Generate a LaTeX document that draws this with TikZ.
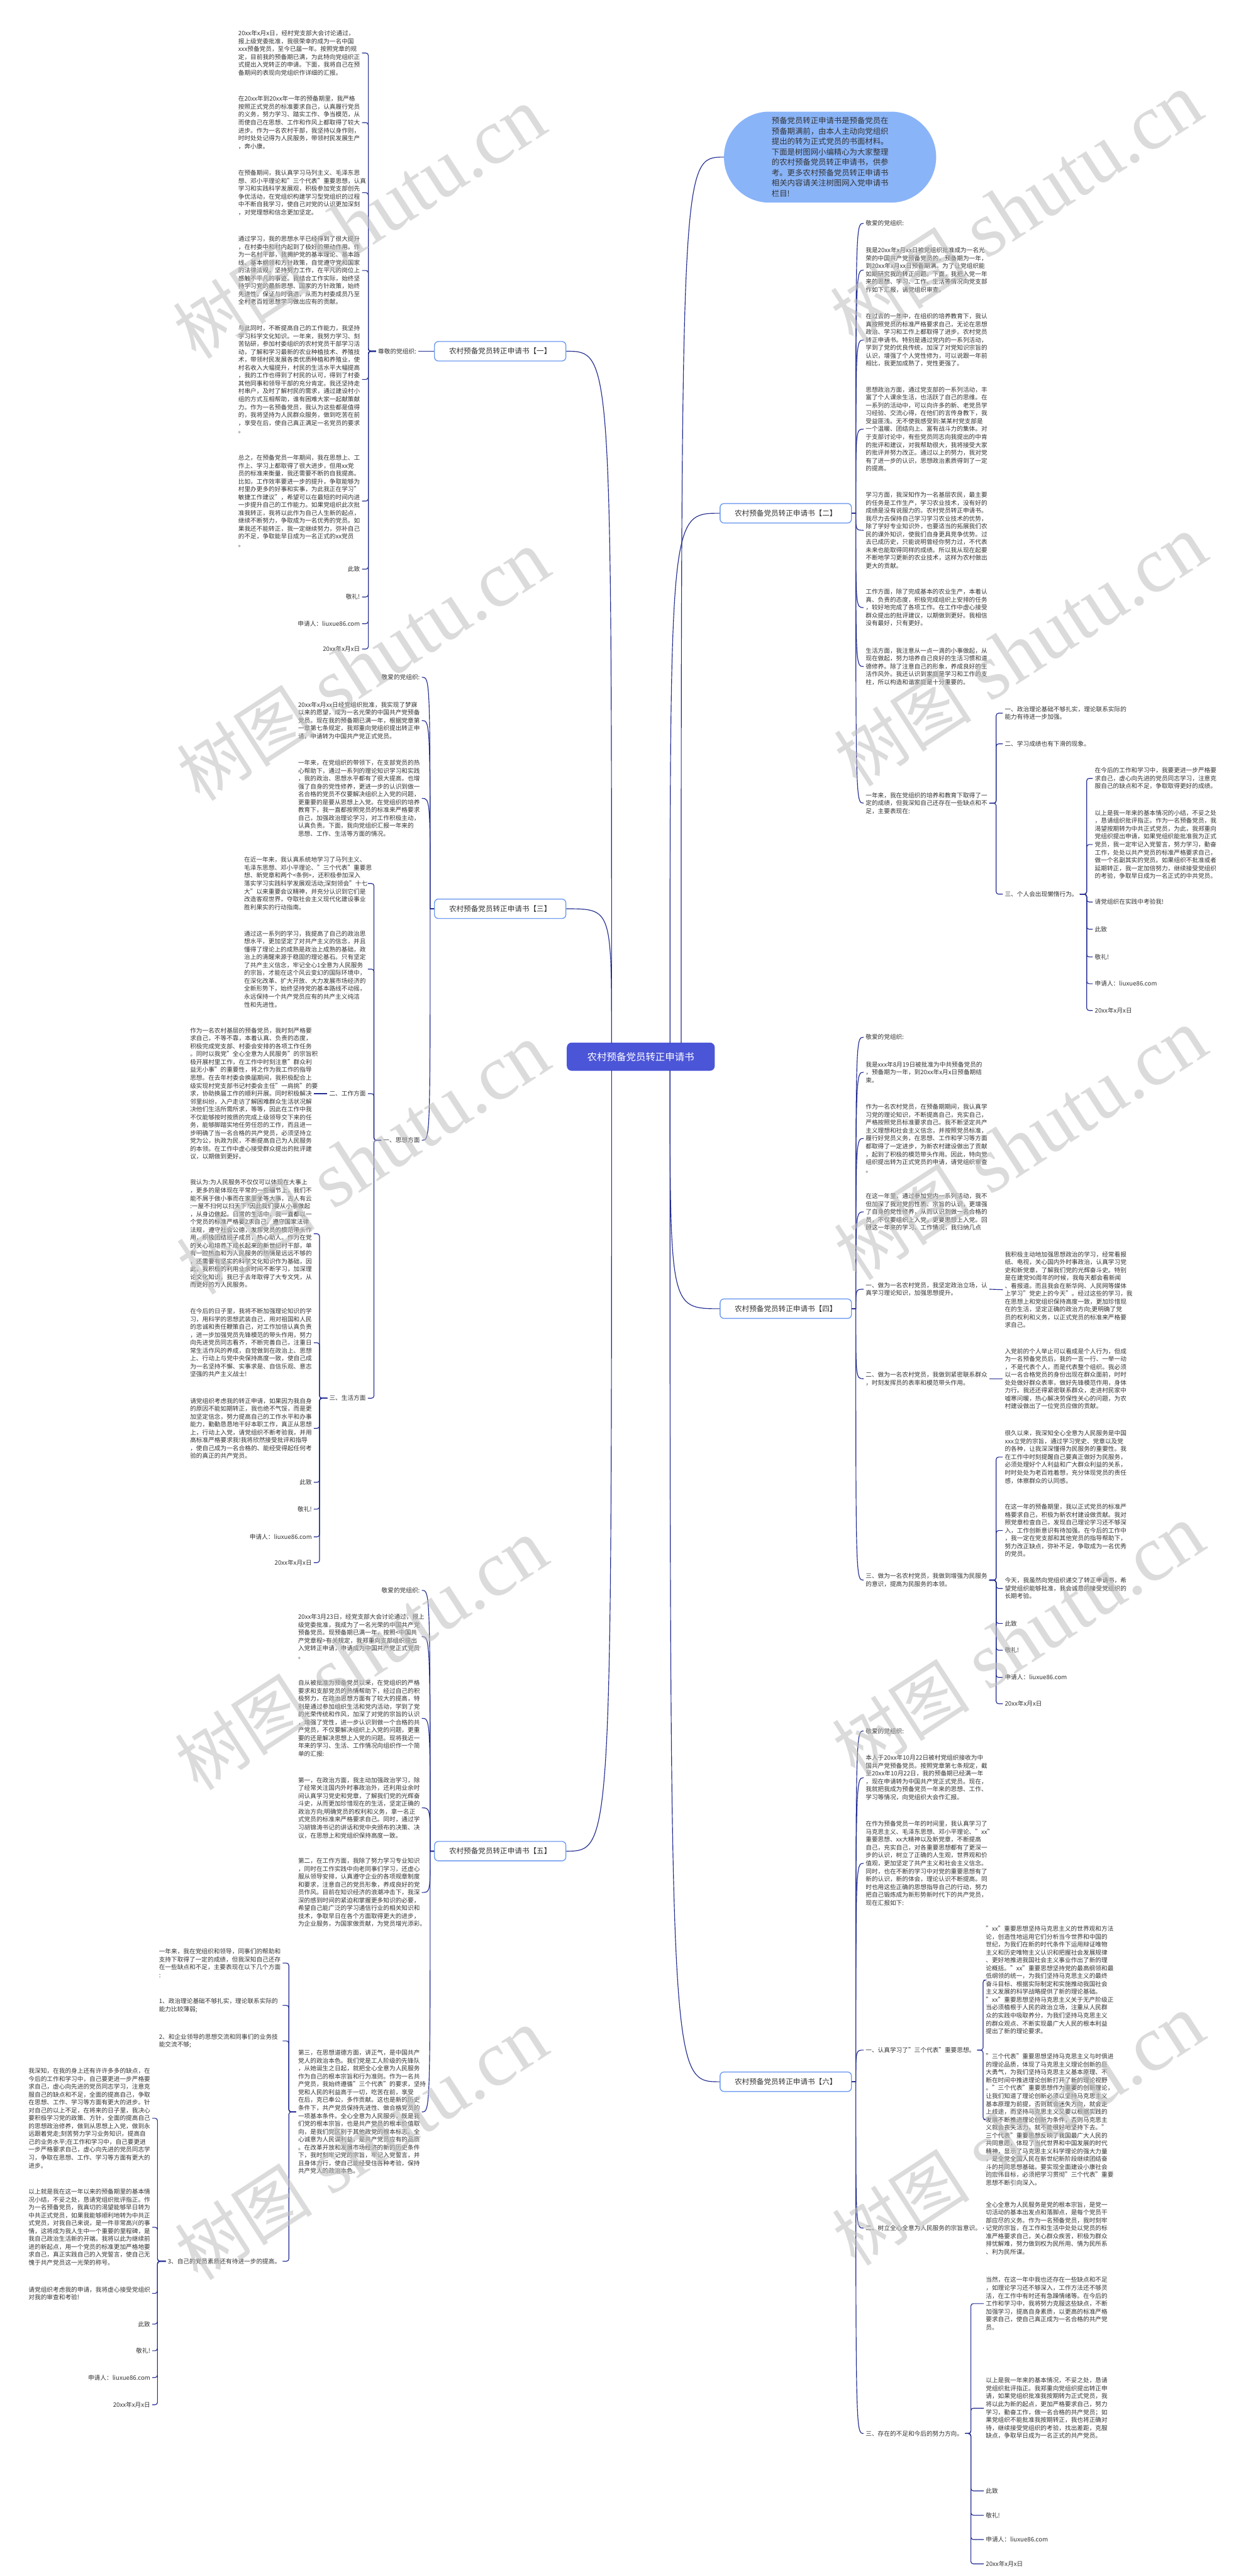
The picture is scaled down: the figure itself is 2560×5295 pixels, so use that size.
\documentclass[tikz,border=0pt]{standalone}
\usepackage{fontspec}
\setmainfont{Noto Sans CJK SC}
\newfontfamily\wmlatin{Liberation Serif}
\usetikzlibrary{calc}
\definecolor{linkblue}{RGB}{35,45,145}
\definecolor{txtgray}{RGB}{51,51,51}
\definecolor{bubbleblue}{RGB}{138,180,248}
\definecolor{rootblue}{RGB}{75,85,215}
\definecolor{branchblue}{RGB}{110,155,240}
\definecolor{wmgray}{RGB}{190,190,190}
% curved links from a branch to its children
\newcommand{\curveL}[2]{%
  \path (#1.west) ++(-8,0) coordinate (s);
  \draw[link] (#1.west) -- (s) .. controls (s |- #2.east) .. (#2.east);
}
\newcommand{\curveR}[2]{%
  \path (#1.east) ++(8,0) coordinate (s);
  \draw[link] (#1.east) -- (s) .. controls (s |- #2.west) .. (#2.west);
}
% bracket links for the deeper levels
\newcommand{\bracketL}[3]{\draw[link, rounded corners=5pt] (#1.west) -- ++(-#3,0) |- (#2.east);}
\newcommand{\bracketR}[3]{\draw[link, rounded corners=5pt] (#1.east) -- ++(#3,0) |- (#2.west);}

\begin{document}
\begin{tikzpicture}[x=1pt, y=-1pt,
  link/.style={draw=linkblue, line width=1.5pt},
  para/.style={font=\fontsize{12.5}{16.2}\selectfont, text=txtgray, align=left, text width=250pt, inner xsep=4pt, inner ysep=0pt},
  item/.style={font=\fontsize{12.5}{16.2}\selectfont, text=txtgray, align=left, inner xsep=4pt, inner ysep=0pt},
  branch/.style={draw=branchblue, line width=1.8pt, rounded corners=8pt, fill=white, text=txtgray, font=\fontsize{15}{18}\selectfont, minimum width=270pt, minimum height=40pt},
  root/.style={fill=rootblue, rounded corners=10pt, text=white, font=\fontsize{20}{24}\selectfont, minimum width=304pt, minimum height=58pt},
  bubble/.style={fill=bubbleblue, rounded corners=93pt, minimum width=436pt, minimum height=187pt, text=txtgray, font=\fontsize{16}{21.4}\selectfont, align=left},
  wmark/.style={text=wmgray, opacity=0.55, rotate=33, inner sep=0pt}]
\useasboundingbox (0,0) rectangle (2560,5295);
\fill[white] (0,0) rectangle (2560,5295);

% root and intro
\node[root] (C0) at (1317,2172) {农村预备党员转正申请书};
\node[bubble] (intro) at (1706,323) {预备党员转正申请书是预备党员在\\预备期满前，由本人主动向党组织\\提出的转为正式党员的书面材料。\\下面是树图网小编精心为大家整理\\的农村预备党员转正申请书，供参\\考。更多农村预备党员转正申请书\\相关内容请关注树图网入党申请书\\栏目!};

\node[branch] (B1) at (1028,722) {农村预备党员转正申请书【一】};
\node[branch] (B3) at (1028,1868) {农村预备党员转正申请书【三】};
\node[branch] (B5) at (1028,3805) {农村预备党员转正申请书【五】};
\node[branch] (B2) at (1615,1055) {农村预备党员转正申请书【二】};
\node[branch] (B4) at (1615,2690) {农村预备党员转正申请书【四】};
\node[branch] (B6) at (1615,4279) {农村预备党员转正申请书【六】};

\coordinate (cnl) at (1257,2144);
\coordinate (csl) at (1257,2200);
\coordinate (cnr) at (1377,2144);
\coordinate (csr) at (1377,2200);
\coordinate (cnb) at (1400,2144);
\draw[link] (cnb) .. controls (cnb |- intro.west) .. (intro.west);
\draw[link] (cnl) .. controls (cnl |- B1.east) .. (B1.east);
\draw[link] (cnl) .. controls (cnl |- B3.east) .. (B3.east);
\draw[link] (csl) .. controls (csl |- B5.east) .. (B5.east);
\draw[link] (cnr) .. controls (cnr |- B2.west) .. (B2.west);
\draw[link] (csr) .. controls (csr |- B4.west) .. (B4.west);
\draw[link] (csr) .. controls (csr |- B6.west) .. (B6.west);

% ---------- 【一】 ----------
\node[item, anchor=west] (L1) at (773,722) {尊敬的党组织:};
\node[para, anchor=east] (a1) at (744,109) {20xx年x月x日，经村党支部大会讨论通过，\\报上级党委批准，我很荣幸的成为一名中国\\xxx预备党员，至今已届一年。按照党章的规\\定，目前我的预备期已满，为此特向党组织正\\式提出入党转正的申请。下面，我将自己在预\\备期间的表现向党组织作详细的汇报。};
\node[para, anchor=east] (a2) at (744,252) {在20xx年到20xx年一年的预备期里，我严格\\按照正式党员的标准要求自己，认真履行党员\\的义务，努力学习、踏实工作、争当模范，从\\而使自己在思想、工作和作风上都取得了较大\\进步。作为一名农村干部，我坚持以身作则，\\时时处处记得为人民服务，带领村民发展生产\\，奔小康。};
\node[para, anchor=east] (a3) at (744,396) {在预备期间，我认真学习马列主义、毛泽东思\\想、邓小平理论和"三个代表"重要思想，认真\\学习和实践科学发展观，积极参加党支部创先\\争优活动，在党组织构建学习型党组织的过程\\中不断自我学习，使自己对党的认识更加深刻\\，对党理想和信念更加坚定。};
\node[para, anchor=east] (a4) at (744,556) {通过学习，我的思想水平已经得到了很大提升\\，在村委中和村内起到了极好的带动作用。作\\为一名村干部，我拥护党的基本理论、基本路\\线、基本纲领和方针政策，自觉遵守党和国家\\的法律法规，坚持努力工作，在平凡的岗位上\\感触不平凡的事迹。我结合工作实际，始终坚\\持学习党的最新思想、国家的方针政策，始终\\先进性，保证与时俱进，从而为村委成员乃至\\全村老百姓思想学习做出应有的贡献。};
\node[para, anchor=east] (a5) at (744,780) {与此同时，不断提高自己的工作能力，我坚持\\学习科学文化知识。一年来，我努力学习、刻\\苦钻研，参加村委组织的农村党员干部学习活\\动，了解和学习最新的农业种植技术、养殖技\\术，带领村民发展各类优质种植和养殖业，使\\村名收入大幅提升，村民的生活水平大幅提高\\，我的工作也得到了村民的认可，得到了村委\\其他同事和领导干部的充分肯定。我还坚持走\\村串户，及时了解村民的需求，通过建设村小\\组的方式互相帮助，谁有困难大家一起献策献\\力。作为一名预备党员，我认为这些都是值得\\的，我将坚持为人民群众服务，做到吃苦在前\\，享受在后，使自己真正满足一名党员的要求\\。};
\node[para, anchor=east] (a6) at (744,1030) {总之，在预备党员一年期间，我在思想上、工\\作上、学习上都取得了很大进步，但用xx党\\员的标准来衡量，我还需要不断的自我提高。\\比如，工作效率要进一步的提升，争取能够为\\村里办更多的好事和实事，为此我正在学习"\\敏捷工作建议"，希望可以在最短的时间内进\\一步提升自己的工作能力。如果党组织此次批\\准我转正，我将以此作为自己人生新的起点，\\继续不断努力，争取成为一名优秀的党员。如\\果我还不能转正，我一定继续努力，弥补自己\\的不足，争取能早日成为一名正式的xx党员\\。};
\node[item, anchor=east] (a7) at (744,1170) {此致};
\node[item, anchor=east] (a8) at (744,1227) {敬礼!};
\node[item, anchor=east] (a9) at (744,1282) {申请人：liuxue86.com};
\node[item, anchor=east] (a10) at (744,1334) {20xx年x月x日};
\curveL{B1}{L1}
\foreach \i in {1,...,10} {\bracketL{L1}{a\i}{16}}

% ---------- 【三】 ----------
\node[item, anchor=east] (b0) at (867,1392) {敬爱的党组织:};
\node[para, anchor=east] (b1) at (867,1481) {20xx年x月xx日经党组织批准，我实现了梦寐\\以来的愿望，成为一名光荣的中国共产党预备\\党员。现在我的预备期已满一年，根据党章第\\一章第七条规定，我郑重向党组织提出转正申\\请，申请转为中国共产党正式党员。};
\node[para, anchor=east] (b2) at (867,1641) {一年来，在党组织的带领下，在支部党员的热\\心帮助下，通过一系列的理论知识学习和实践\\，我的政治、思想水平都有了很大提高，也增\\强了自身的党性修养，更进一步的认识到做一\\名合格的党员不仅要解决组织上入党的问题，\\更重要的是要从思想上入党。在党组织的培养\\教育下，我一直都按照党员的标准来严格要求\\自己，加强政治理论学习，对工作积极主动，\\认真负责。下面，我向党组织汇报一年来的\\思想、工作、生活等方面的情况。};
\node[item, anchor=east] (b3) at (867,2344) {一、思想方面};
\foreach \i in {0,...,3} {\curveL{B3}{b\i}}
\node[para, anchor=east] (q1) at (756,1816) {在近一年来，我认真系统地学习了马列主义、\\毛泽东思想、邓小平理论、"三个代表"重要思\\想、新党章和两个<条例>，还积极参加深入\\落实学习实践科学发展观活动;深刻领会"十七\\大"以来重要会议精神，并充分认识到它们是\\改造客观世界，夺取社会主义现代化建设事业\\胜利果实的行动指南。};
\node[para, anchor=east] (q2) at (756,1992) {通过这一系列的学习，我提高了自己的政治思\\想水平，更加坚定了对共产主义的信念，并且\\懂得了理论上的成熟是政治上成熟的基础，政\\治上的清醒来源于稳固的理论基石。只有坚定\\了共产主义信念，牢记全心1全意为人民服务\\的宗旨，才能在这个风云变幻的国际环境中，\\在深化改革、扩大开放、大力发展市场经济的\\全新形势下，始终坚持党的基本路线不动摇，\\永远保持一个共产党员应有的共产主义纯洁\\性和先进性。};
\node[item, anchor=east] (q3) at (756,2248) {二、工作方面};
\node[item, anchor=east] (q4) at (756,2874) {三、生活方面};
\foreach \i in {1,...,4} {\bracketL{b3}{q\i}{15}}
\node[para, anchor=east] (c1) at (645,2248) {作为一名农村基层的预备党员，我时刻严格要\\求自己，不等不靠，本着认真、负责的态度，\\积极完成党支部、村委会安排的各项工作任务\\。同时以我党"全心全意为人民服务"的宗旨积\\极开展村里工作，在工作中时刻注意"群众利\\益无小事"的重要性，将之作为我工作的指导\\思想。在去年村委会换届期间，我积极配合上\\级实现村党支部书记村委会主任"一肩挑"的要\\求，协助换届工作的顺利开展。同时积极解决\\邻里纠纷，入户走访了解困难群众生活状况解\\决他们生活所需所求，等等，因此在工作中我\\不仅能够按时按质的完成上级领导交下来的任\\务，能够脚踏实地任劳任怨的工作，而且进一\\步明确了当一名合格的共产党员，必须坚持立\\党为公，执政为民，不断提高自己为人民服务\\的本领。在工作中虚心接受群众提出的批评建\\议，以期做到更好。};
\draw[link] (q3.west) -- (c1.east);
\node[para, anchor=east] (r1) at (645,2536) {我认为:为人民服务不仅仅可以体现在大事上\\，更多的是体现在平常的一些细节上，我们不\\能不屑于做小事而在家里坐等大事，古人有云\\:一屋不扫何以扫天下?因此我们要从小事做起\\，从身边做起。日常的生活中，我一直都以一\\个党员的标准严格要2求自己，遵守国家法律\\法规，遵守社会公德，发挥党员的模范带头作\\用，积极团结班子成员，热心助人。作为在党\\的关心和培养下成长起来的新世纪村干部，单\\有一腔热血和为人民服务的热情是远远不够的\\，还需要有坚实的科学文化知识作为基础，因\\此，我积极的利用业余时间不断学习，加深理\\论文化知识，我已于去年取得了大专文凭，从\\而更好的为人民服务。};
\node[para, anchor=east] (r2) at (645,2760) {在今后的日子里，我将不断加强理论知识的学\\习，用科学的思想武装自己，用对祖国和人民\\的忠诚和责任鞭策自己，对工作加倍认真负责\\，进一步加强党员先锋模范的带头作用，努力\\向先进党员同志看齐，不断完善自己，注重日\\常生活作风的养成，自觉做到在政治上、思想\\上、行动上与党中央保持高度一致，使自己成\\为一名坚持不懈、实事求是、自信乐观、意志\\坚强的共产主义战士!};
\node[para, anchor=east] (r3) at (645,2936) {请党组织考虑我的转正申请，如果因为我自身\\的原因不能如期转正，我也绝不气馁，而是更\\加坚定信念，努力提高自己的工作水平和办事\\能力，勤勤恳恳地干好本职工作，真正从思想\\上，行动上入党，请党组织不断考验我，并用\\高标准严格要求我!我将欣然接受批评和指导\\，使自己成为一名合格的、能经受得起任何考\\验的真正的共产党员。};
\node[item, anchor=east] (r4) at (645,3047) {此致};
\node[item, anchor=east] (r5) at (645,3102) {敬礼!};
\node[item, anchor=east] (r6) at (645,3159) {申请人：liuxue86.com};
\node[item, anchor=east] (r7) at (645,3212) {20xx年x月x日};
\foreach \i in {1,...,7} {\bracketL{q4}{r\i}{16}}

% ---------- 【五】 ----------
\node[item, anchor=east] (e0) at (867,3269) {敬爱的党组织:};
\node[para, anchor=east] (e1) at (867,3364) {20xx年3月23日，经党支部大会讨论通过，报上\\级党委批准，我成为了一名光荣的中国共产党\\预备党员。现预备期已满一年，按照<中国共\\产党章程>有关规定，我郑重向支部组织提出\\入党转正申请，申请成为中国共产党正式党员\\。};
\node[para, anchor=east] (e2) at (867,3532) {自从被批准为预备党员以来，在党组织的严格\\要求和支部党员的热情帮助下，经过自己的积\\极努力，在政治思想方面有了较大的提高，特\\别是通过参加组织生活和党内活动，学到了党\\的光荣传统和作风，加深了对党的宗旨的认识\\，增强了党性，进一步认识到做一个合格的共\\产党员，不仅要解决组织上入党的问题，更重\\要的还是解决思想上入党的问题。现将我近一\\年来的学习、生活、工作情况向组织作一个简\\单的汇报:};
\node[para, anchor=east] (e3) at (867,3716) {第一，在政治方面，我主动加强政治学习，除\\了经常关注国内外时事政治外，还利用业余时\\间认真学习党史和党章，了解我们党的光辉奋\\斗史，从而更加珍惜现在的生活，坚定正确的\\政治方向;明确党员的权利和义务，拿一名正\\式党员的标准来严格要求自己。同时，通过学\\习胡锦涛书记的讲话和党中央颁布的决策、决\\议，在思想上和党组织保持高度一致。};
\node[para, anchor=east] (e4) at (867,3890) {第二，在工作方面，我除了努力学习专业知识\\，同时在工作实践中向老同事们学习，还虚心\\服从领导安排，认真遵守企业的各项规章制度\\和要求，注意自己的党员形象，养成良好的党\\员作风。目前在知识经济的浪潮冲击下，我深\\深的感到时间的紧迫和掌握更多知识的必要，\\希望自己能广泛的学习通信行业的相关知识和\\技术，争取早日在各个方面取得更大的进步，\\为企业服务，为国家做贡献，为党员增光添彩。};
\node[para, anchor=east] (e5) at (867,4341) {第三，在思想道德方面，讲正气，是中国共产\\党人的政治本色。我们党是工人阶级的先锋队\\，从她诞生之日起，就把全心全意为人民服务\\作为自己的根本宗旨和行为准则。作为一名共\\产党员，我始终遵循"三个代表"的要求，坚持\\党和人民的利益高于一切，吃苦在前，享受\\在后，克已奉公，多作贡献。这也是新的历史\\条件下，共产党员保持先进性、做合格党员的\\一项基本条件。全心全意为人民服务，既是我\\们党的根本宗旨，也是共产党员的根本价值取\\向，是我们党区别于其他政党的根本标志。全\\心诚意为人民谋利益，是共产党员应有的品质\\。在改革开放和发展市场经济的新的历史条件\\下，我时刻牢记党的宗旨，牢记入党誓言，并\\且身体力行，使自己能经受住各种考验，保持\\共产党人的政治本色。};
\foreach \i in {0,...,5} {\curveL{B5}{e\i}}
\node[para, anchor=east] (f1) at (581,4035) {一年来，我在党组织和领导，同事们的帮助和\\支持下取得了一定的成绩，但我深知自己还存\\在一些缺点和不足，主要表现在以下几个方面\\:};
\node[para, anchor=east] (f2) at (581,4122) {1、政治理论基础不够扎实，理论联系实际的\\能力比较薄弱;};
\node[para, anchor=east] (f3) at (581,4195) {2、和企业领导的思想交流和同事们的业务技\\能交流不够;};
\node[item, anchor=east] (f4) at (581,4648) {3、自己的党员素质还有待进一步的提高。};
\foreach \i in {1,...,4} {\bracketL{e5}{f\i}{15}}
\node[para, anchor=east] (g1) at (313,4354) {我深知，在我的身上还有许许多多的缺点，在\\今后的工作和学习中，自己要更进一步严格要\\求自己，虚心向先进的党员同志学习，注意克\\服自己的缺点和不足，全面的提高自己，争取\\在思想、工作、学习等方面有更大的进步。针\\对自己的以上不足，在将来的日子里，我决心\\要积极学习党的政策、方针，全面的提高自己\\的思想政治修养，做到从思想上入党，做到永\\远跟着党走;刻苦努力学习业务知识，提高自\\己的业务水平;在工作和学习中，自己要更进\\一步严格要求自己，虚心向先进的党员同志学\\习，争取在思想、工作、学习等方面有更大的\\进步。};
\node[para, anchor=east] (g2) at (313,4578) {以上就是我在这一年以来的预备期里的基本情\\况小结，不妥之处，恳请党组织批评指正。作\\为一名预备党员，我真切的渴望能够早日转为\\中共正式党员，如果我能够顺利地转为中共正\\式党员，对我自己来说，是一件非常高兴的事\\情，这将成为我人生中一个重要的里程碑，是\\我自己政治生活新的开端。我将以此为继续前\\进的新起点，用一个党员的标准更加严格地要\\求自己，真正实践自己的入党誓言，使自己无\\愧于共产党员这一光荣的称号。};
\node[para, anchor=east] (g3) at (313,4714) {请党组织考虑我的申请，我将虚心接受党组织\\对我的审查和考验!};
\node[item, anchor=east] (g4) at (313,4777) {此致};
\node[item, anchor=east] (g5) at (313,4832) {敬礼!};
\node[item, anchor=east] (g6) at (313,4887) {申请人：liuxue86.com};
\node[item, anchor=east] (g7) at (313,4943) {20xx年x月x日};
\foreach \i in {1,...,7} {\bracketL{f4}{g\i}{17}}

% ---------- 【二】 ----------
\node[item, anchor=west] (h0) at (1775,459) {敬爱的党组织:};
\node[para, anchor=west] (h1) at (1775,555) {我是20xx年x月xx日被党组织批准成为一名光\\荣的中国共产党预备党员的，预备期为一年，\\到20xx年x月xx日预备期满。为了让党组织能\\如期研究我的转正问题。下面，我把入党一年\\来的思想、学习、工作、生活等情况向党支部\\作如下汇报，请党组织审查。};
\node[para, anchor=west] (h2) at (1775,699) {在过去的一年中，在组织的培养教育下，我认\\真按照党员的标准严格要求自己，无论在思想\\政治、学习和工作上都取得了进步。农村党员\\转正申请书。特别是通过党内的一系列活动，\\学到了党的优良传统，加深了对党知识宗旨的\\认识，增强了个人党性修为，可以说跟一年前\\相比，我更加成熟了，党性更强了。};
\node[para, anchor=west] (h3) at (1775,882) {思想政治方面，通过党支部的一系列活动，丰\\富了个人课余生活，也活跃了自己的思维。在\\一系列的活动中，可以向许多的新、老党员学\\习经验、交流心得，在他们的言传身教下，我\\受益匪浅。无不使我感受到:某某村党支部是\\一个温暖、团结向上、富有战斗力的集体。对\\于支部讨论中，有些党员同志向我提出的中肯\\的批评和建议，对我帮助很大，我将接受大家\\的批评并努力改正。通过以上的努力，我对党\\有了进一步的认识，思想政治素质得到了一定\\的提高。};
\node[para, anchor=west] (h4) at (1775,1090) {学习方面，我深知作为一名基层农民，最主要\\的任务是工作生产，学习农业技术，没有好的\\成绩是没有说服力的。农村党员转正申请书。\\我尽力去保持自己学习学习农业技术的优势，\\除了学好专业知识外，也要适当的拓展我们农\\民的课外知识，使我们自身更具竞争优势。过\\去已成历史，只能说明曾经你努力过，不代表\\未来也能取得同样的成绩。所以我从现在起要\\不断地学习更新的农业技术，这样为农村做出\\更大的贡献。};
\node[para, anchor=west] (h5) at (1775,1249) {工作方面，除了完成基本的农业生产，本着认\\真、负责的态度，积极完成组织上安排的任务\\，较好地完成了各项工作。在工作中虚心接受\\群众提出的批评建议，以期做到更好。我相信\\没有最好，只有更好。};
\node[para, anchor=west] (h6) at (1775,1370) {生活方面，我注意从一点一滴的小事做起，从\\现在做起，努力培养自己良好的生活习惯和道\\德修养。除了注意自己的形象，养成良好的生\\活作风外。我还认识到家庭是学习和工作的支\\柱，所以构造和谐家庭是十分重要的。};
\node[para, anchor=west] (h7) at (1775,1651) {一年来，我在党组织的培养和教育下取得了一\\定的成绩，但我深知自己还存在一些缺点和不\\足，主要表现在:};
\foreach \i in {0,...,7} {\curveR{B2}{h\i}}
\node[para, anchor=west] (i1) at (2061,1466) {一、政治理论基础不够扎实，理论联系实际的\\能力有待进一步加强。};
\node[item, anchor=west] (i2) at (2061,1529) {二、学习成绩也有下滑的现象。};
\node[item, anchor=west] (i3) at (2061,1838) {三、个人会出现懒惰行为。};
\foreach \i in {1,...,3} {\bracketR{h7}{i\i}{14}}
\node[para, anchor=west] (j1) at (2246,1600) {在今后的工作和学习中，我要更进一步严格要\\求自己，虚心向先进的党员同志学习，注意克\\服自己的缺点和不足，争取取得更好的成绩。};
\node[para, anchor=west] (j2) at (2246,1736) {以上是我一年来的基本情况的小结，不妥之处\\，恳请组织批评指正。作为一名预备党员，我\\渴望按期转为中共正式党员，为此，我郑重向\\党组织提出申请，如果党组织能批准我为正式\\党员，我一定牢记入党誓言，努力学习，勤奋\\工作，处处以共产党员的标准严格要求自己，\\做一个名副其实的党员。如果组织不批准或者\\延期转正，我一定加倍努力，继续接受党组织\\的考验，争取早日成为一名正式的中共党员。};
\node[item, anchor=west] (j3) at (2246,1854) {请党组织在实践中考验我!};
\node[item, anchor=west] (j4) at (2246,1910) {此致};
\node[item, anchor=west] (j5) at (2246,1967) {敬礼!};
\node[item, anchor=west] (j6) at (2246,2022) {申请人：liuxue86.com};
\node[item, anchor=west] (j7) at (2246,2077) {20xx年x月x日};
\foreach \i in {1,...,7} {\bracketR{i3}{j\i}{14}}

% ---------- 【四】 ----------
\node[item, anchor=west] (k0) at (1775,2132) {敬爱的党组织:};
\node[para, anchor=west] (k1) at (1775,2204) {我是xxx年8月19日被批准为中共预备党员的\\，预备期为一年，到20xx年x月x日预备期结\\束。};
\node[para, anchor=west] (k2) at (1775,2340) {作为一名农村党员，在预备期期间，我认真学\\习党的理论知识，不断提高自己，充实自己，\\严格按照党员标准要求自己。我不断坚定共产\\主义理想和社会主义信念，并按照党员标准，\\履行好党员义务，在思想、工作和学习等方面\\都取得了一定进步，为新农村建设做出了贡献\\，起到了积极的模范带头作用。因此，特向党\\组织提出转为正式党员的申请，请党组织审查\\。};
\node[para, anchor=west] (k3) at (1775,2491) {在这一年里，通过参加党内一系列活动，我不\\但加深了我对党的性质、宗旨的认识，更增强\\了自身的党性修养，从而认识到做一名合格的\\员，不仅要组织上入党，更要思想上入党。回\\顾这一年来的学习、工作情况，我归纳几点};
\node[para, anchor=west] (k4) at (1775,2650) {一、做为一名农村党员，我坚定政治立场，认\\真学习理论知识，加强思想提升。};
\node[para, anchor=west] (k5) at (1775,2834) {二、做为一名农村党员，我做到紧密联系群众\\，时刻发挥员的表率和模范带头作用。};
\node[para, anchor=west] (k6) at (1775,3248) {三、做为一名农村党员，我做到增强为民服务\\的意识，提高为民服务的本领。};
\foreach \i in {0,...,6} {\curveR{B4}{k\i}}
\node[para, anchor=west] (l1) at (2061,2651) {我积极主动地加强思想政治的学习，经常看报\\纸、电视，关心国内外时事政治，认真学习党\\史和新党章，了解我们党的光辉奋斗史。特别\\是在建党90周年的时候，我每天都会看新闻\\、看报道。而且我会在新华网、人民网等媒体\\上学习"党史上的今天"。经过这些的学习，我\\在思想上和党组织保持高度一致，更加珍惜现\\在的生活，坚定正确的政治方向;更明确了党\\员的权利和义务，以正式党员的标准来严格要\\求自己。};
\node[para, anchor=west] (l2) at (2061,2834) {入党前的个人举止可以看成是个人行为，但成\\为一名预备党员后，我的一言一行、一举一动\\，不是代表个人，而是代表整个组织。我必须\\以一名合格党员的身份出现在群众面前，时时\\处处做好群众表率，做好先锋模范作用，身体\\力行。我还还得紧密联系群众，走进村民家中\\嘘寒问暖，热心解决劳保性关心的问题，为农\\村建设做出了一位党员应做的贡献。};
\draw[link] (k4.east) -- (l1.west);
\draw[link] (k5.east) -- (l2.west);
\node[para, anchor=west] (m1) at (2061,2995) {很久以来，我深知全心全意为人民服务是中国\\xxx立党的宗旨，通过学习党史、党章以及党\\的各种，让我深深懂得为民服务的重要性。我\\在工作中时刻提醒自己要真正做好为民服务，\\必须处理好个人利益和广大群众利益的关系，\\时时处处为老百姓着想，充分体现党员的责任\\感，体察群众的认同感。};
\node[para, anchor=west] (m2) at (2061,3146) {在这一年的预备期里，我以正式党员的标准严\\格要求自己，积极为新农村建设做贡献。我对\\照党章检查自己，发现自己理论学习还不够深\\入，工作创新意识有待加强。在今后的工作中\\，我一定在党支部和其他党员的指导帮助下，\\努力改正缺点，弥补不足，争取成为一名优秀\\的党员。};
\node[para, anchor=west] (m3) at (2061,3265) {今天，我虽然向党组织递交了转正申请书，希\\望党组织能够批准，我会诚恳的接受党组织的\\长期考验。};
\node[item, anchor=west] (m4) at (2061,3337) {此致};
\node[item, anchor=west] (m5) at (2061,3392) {敬礼!};
\node[item, anchor=west] (m6) at (2061,3448) {申请人：liuxue86.com};
\node[item, anchor=west] (m7) at (2061,3502) {20xx年x月x日};
\foreach \i in {1,...,7} {\bracketR{k6}{m\i}{14}}

% ---------- 【六】 ----------
\node[item, anchor=west] (n0) at (1775,3558) {敬爱的党组织:};
\node[para, anchor=west] (n1) at (1775,3654) {本人于20xx年10月22日被村党组织接收为中\\国共产党预备党员。按照党章第七条规定，截\\至20xx年10月22日，我的预备期已经满一年\\，现在申请转为中国共产党正式党员。现在，\\我就把我成为预备党员一年来的思想、工作、\\学习等情况，向党组织大会作汇报。};
\node[para, anchor=west] (n2) at (1775,3830) {在作为预备党员一年的时间里，我认真学习了\\马克思主义、毛泽东思想、邓小平理论、"xx"\\重要思想、xx大精神以及新党章，不断提高\\自己，充实自己，对各重要思想都有了更深一\\步的认识，树立了正确的人生观，世界观和价\\值观，更加坚定了共产主义和社会主义信念。\\同时，也在不断的学习中对党的重要思想有了\\新的认识，新的体会，理论认识不断提高。同\\时也用这些正确的思想指导自己的行动，努力\\把自己锻炼成为新形势新时代下的共产党员，\\现在汇报如下:};
\node[item, anchor=west] (n3) at (1775,4214) {一、认真学习了"三个代表"重要思想。};
\node[item, anchor=west] (n4) at (1775,4580) {二、树立全心全意为人民服务的宗旨意识。};
\node[item, anchor=west] (n5) at (1775,5002) {三、存在的不足和今后的努力方向。};
\foreach \i in {0,...,5} {\curveR{B6}{n\i}}
\node[para, anchor=west] (o1) at (2022,4070) {"xx"重要思想坚持马克思主义的世界观和方法\\论，创造性地运用它们分析当今世界和中国的\\世纪，为我们在新的时代条件下运用辩证唯物\\主义和历史唯物主义认识和把握社会发展规律\\、更好地推进我国社会主义事业作出了新的理\\论概括。"xx"重要思想坚持党的最高纲领和最\\低纲领的统一，为我们坚持马克思主义的最终\\奋斗目标、根据实际制定和实施推动我国社会\\主义发展的科学战略提供了新的理论基础。\\"xx"重要思想坚持马克思主义关于无产阶级正\\当必须植根于人民的政治立场，注重从人民群\\众的实践中吸取养分，为我们坚持马克思主义\\的群众观点、不断实现最广大人民的根本利益\\提出了新的理论要求。};
\node[para, anchor=west] (o2) at (2022,4357) {"三个代表"重要思想坚持马克思主义与时俱进\\的理论品质，体现了马克思主义理论创新的巨\\大勇气，为我们坚持马克思主义基本原理、不\\断在时间中推进理论创新打开了新的理论视野\\。"三个代表"重要思想作为重要的创新理论，\\让我们知道了理论创新必须以坚持马克思主义\\基本原理为前提，否则就会迷失方向，就会走\\上歧途，而坚持马克思主义又要以根据实践的\\发展不断推进理论创新为条件，否则马克思主\\义就会丧失活力，就不能很好地坚持下去。"\\三个代表"重要思想反映了我国最广大人民的\\共同意愿，体现了当代世界和中国发展的时代\\精神，显示了马克思主义科学理论的强大力量\\，是全党全国人民在新世纪新阶段继续团结奋\\斗的共同思想基础。要实现全面建设小康社会\\的宏伟目标，必须把学习贯彻"三个代表"重要\\思想不断引向深入。};
\foreach \i in {1,2} {\bracketR{n3}{o\i}{12}}
\node[para, anchor=west] (o3) at (2022,4580) {全心全意为人民服务是党的根本宗旨，是党一\\切活动的基本出发点和落脚点，是每个党员干\\部应尽的义务。作为一名预备党员，我时刻牢\\记党的宗旨，在工作和生活中处处以党员的标\\准严格要求自己，关心群众疾苦，积极为群众\\排忧解难，努力做到权为民所用、情为民所系\\、利为民所谋。};
\draw[link] (n4.east) -- (o3.west);
\node[para, anchor=west] (o4) at (2022,4735) {当然，在这一年中我也还存在一些缺点和不足\\，如理论学习还不够深入，工作方法还不够灵\\活，在工作中有时还有急躁情绪等。在今后的\\工作和学习中，我将努力克服这些缺点，不断\\加强学习，提高自身素质，以更高的标准严格\\要求自己，使自己真正成为一名合格的共产党\\员。};
\node[para, anchor=west] (o5) at (2022,4950) {以上是我一年来的基本情况，不妥之处，恳请\\党组织批评指正。我郑重向党组织提出转正申\\请，如果党组织批准我按期转为正式党员，我\\将以此为新的起点，更加严格要求自己，努力\\学习，勤奋工作，做一名合格的共产党员；如\\果党组织不能批准我按期转正，我也将正确对\\待，继续接受党组织的考验，找出差距，克服\\缺点，争取早日成为一名正式的共产党员。};
\node[item, anchor=west] (o6) at (2022,5120) {此致};
\node[item, anchor=west] (o7) at (2022,5170) {敬礼!};
\node[item, anchor=west] (o8) at (2022,5220) {申请人：liuxue86.com};
\node[item, anchor=west] (o9) at (2022,5270) {20xx年x月x日};
\foreach \i in {4,...,9} {\bracketR{n5}{o\i}{12}}

% watermarks
\foreach \wx/\wy in {739/459, 747/1369, 747/2383, 743/3402, 743/4409, 2089/429, 2097/1339, 2097/2353, 2093/3372, 2093/4379} {
  \node[wmark] at (\wx,\wy) {\fontsize{142}{150}\selectfont 树图\hspace{40pt}{\wmlatin\fontsize{162}{162}\selectfont shutu.cn}};
}
\end{tikzpicture}
\end{document}
